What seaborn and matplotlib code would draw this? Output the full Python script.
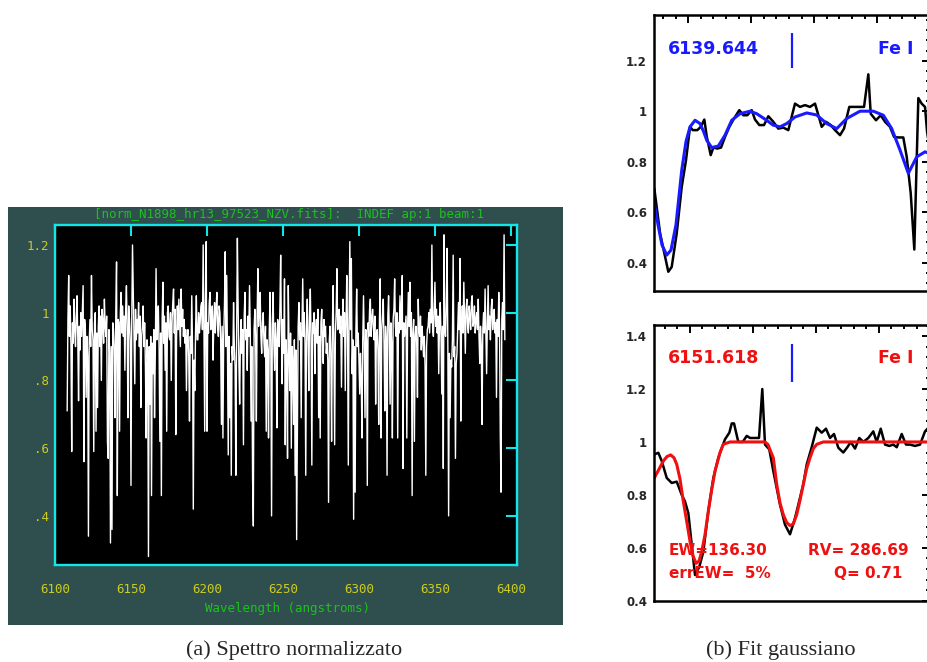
import numpy as np
import matplotlib
matplotlib.use("Agg")
import matplotlib.pyplot as plt
import matplotlib.transforms as mtransforms
from matplotlib.patches import Rectangle
from matplotlib.ticker import MultipleLocator, FixedLocator, FuncFormatter
import seaborn as sns

sns.set_style("white")
plt.rcParams["font.family"] = ["DejaVu Sans"]

# ---------------- (a) normalised spectrum, sampled every 0.5 A from 6108 A ----------------
spec_start, spec_step = 6108.0, 0.5
spec_flux = [
    0.71, 0.98, 1.11, 0.93, 1.02, 0.90, 0.59, 0.97, 0.91, 1.04,
    0.95, 0.90, 0.99, 1.05, 0.92, 0.74, 0.96, 0.89, 1.00, 0.93,
    1.01, 1.08, 0.56, 0.98, 0.95, 0.75, 0.93, 0.87, 0.34, 0.91,
    0.98, 0.90, 1.11, 0.95, 0.92, 0.59, 0.97, 1.00, 0.65, 0.94,
    0.72, 0.96, 1.02, 0.90, 0.99, 0.80, 1.01, 0.97, 0.91, 1.04,
    0.96, 0.93, 0.99, 0.62, 0.57, 0.95, 0.88, 0.32, 0.90, 0.36,
    0.97, 0.95, 0.89, 0.69, 1.00, 1.15, 0.46, 0.98, 0.97, 0.65,
    1.00, 1.06, 0.94, 1.02, 0.93, 0.99, 0.83, 1.01, 1.08, 0.95,
    0.69, 1.02, 0.98, 0.92, 0.49, 0.97, 1.20, 1.06, 0.93, 0.79,
    1.01, 0.92, 0.98, 0.94, 1.03, 0.90, 0.99, 0.72, 0.93, 0.96,
    1.02, 0.90, 0.97, 0.84, 0.63, 0.92, 0.86, 0.28, 0.90, 0.73,
    0.93, 0.46, 0.91, 0.82, 0.95, 0.69, 0.88, 1.13, 0.92, 0.98,
    1.02, 0.89, 0.62, 0.94, 0.46, 0.98, 1.09, 0.91, 0.99, 0.83,
    0.97, 0.65, 1.00, 1.02, 0.93, 0.92, 1.00, 0.80, 0.97, 1.03,
    1.07, 0.94, 1.01, 0.64, 0.93, 1.02, 0.95, 1.04, 0.97, 0.90,
    1.07, 0.96, 1.01, 0.93, 0.98, 0.91, 0.95, 0.77, 0.93, 0.95,
    0.87, 0.68, 0.93, 0.88, 1.05, 0.90, 0.42, 0.86, 0.77, 0.95,
    1.05, 0.92, 0.92, 1.00, 0.94, 0.97, 1.02, 1.03, 0.95, 1.20,
    0.96, 0.65, 1.02, 1.21, 0.65, 0.97, 0.94, 1.03, 1.06, 0.95,
    0.98, 1.02, 0.86, 0.97, 1.03, 0.94, 1.01, 1.06, 0.96, 0.93,
    1.02, 1.00, 0.92, 0.67, 0.96, 0.63, 0.93, 1.02, 1.18, 0.90,
    1.11, 0.88, 0.58, 0.93, 0.69, 0.85, 0.52, 0.90, 0.86, 1.03,
    0.90, 0.84, 0.52, 0.93, 1.22, 1.02, 0.85, 0.73, 0.91, 0.98,
    0.88, 0.95, 0.61, 0.99, 1.06, 0.92, 0.95, 0.83, 0.99, 0.93,
    1.08, 0.94, 0.68, 0.90, 0.51, 0.37, 0.95, 1.01, 0.93, 0.68,
    0.99, 1.13, 0.96, 1.02, 1.06, 0.93, 0.88, 0.97, 1.00, 0.91,
    0.87, 0.96, 0.65, 0.92, 0.89, 0.63, 0.95, 1.06, 0.90, 0.40,
    0.96, 1.06, 0.91, 0.83, 0.97, 0.92, 0.66, 0.98, 0.96, 0.90,
    1.02, 1.17, 0.93, 0.79, 0.98, 0.88, 1.10, 0.61, 0.92, 0.86,
    0.57, 1.08, 0.90, 0.77, 0.94, 0.60, 0.90, 0.84, 0.67, 0.92,
    0.52, 0.89, 0.33, 0.65, 0.96, 1.03, 0.92, 0.97, 0.69, 0.95,
    1.10, 0.93, 1.00, 0.91, 0.52, 0.96, 1.04, 0.92, 0.77, 0.99,
    1.07, 0.92, 0.55, 0.97, 0.94, 1.00, 0.82, 0.95, 0.98, 0.91,
    1.01, 0.69, 0.93, 0.63, 0.97, 1.01, 0.92, 0.85, 0.98, 0.93,
    0.96, 0.88, 0.91, 0.86, 0.44, 0.92, 0.96, 0.87, 0.62, 0.95,
    1.08, 0.90, 0.61, 0.94, 1.00, 1.13, 0.95, 0.96, 1.01, 0.94,
    0.99, 0.78, 0.96, 1.04, 0.93, 1.00, 0.77, 0.97, 1.11, 0.94,
    0.55, 0.98, 1.21, 0.95, 1.16, 0.82, 0.92, 0.39, 0.90, 0.47,
    0.95, 1.07, 0.90, 0.94, 0.86, 0.76, 0.88, 0.80, 0.63, 0.92,
    1.05, 0.91, 0.69, 0.95, 0.92, 0.49, 0.97, 0.93, 1.01, 1.04,
    0.93, 0.98, 1.01, 0.96, 0.92, 0.99, 0.73, 0.94, 0.95, 0.89,
    0.67, 0.98, 1.10, 0.63, 0.95, 0.99, 1.04, 0.91, 0.71, 0.96,
    0.92, 0.52, 0.99, 1.05, 0.94, 0.73, 0.97, 0.91, 0.63, 0.98,
    1.01, 1.10, 0.96, 0.93, 1.00, 0.63, 0.97, 0.94, 1.05, 0.95,
    1.02, 1.11, 0.54, 0.97, 0.93, 0.96, 0.99, 0.63, 0.95, 1.06,
    0.96, 1.09, 0.93, 1.00, 0.46, 0.94, 0.98, 0.62, 0.93, 0.96,
    0.91, 0.75, 1.04, 0.95, 0.93, 0.99, 0.89, 0.96, 0.92, 0.87,
    0.93, 0.84, 0.52, 0.90, 0.95, 0.96, 1.00, 0.94, 1.01, 0.97,
    1.20, 0.95, 0.93, 1.01, 1.09, 0.96, 1.01, 0.94, 0.99, 0.82,
    0.97, 1.03, 0.93, 0.76, 0.96, 0.54, 1.23, 0.95, 0.93, 1.02,
    1.19, 0.90, 0.40, 0.88, 0.69, 0.86, 0.84, 0.92, 1.17, 0.87,
    0.90, 0.57, 0.85, 0.88, 0.96, 1.03, 0.95, 1.16, 0.68, 0.97,
    1.02, 0.94, 1.09, 0.98, 0.88, 1.01, 1.04, 0.96, 0.94, 1.02,
    0.99, 0.95, 1.03, 1.05, 0.96, 0.97, 1.02, 0.94, 0.98, 1.00,
    0.95, 1.04, 0.93, 0.85, 0.96, 0.90, 0.67, 0.95, 1.00, 0.94,
    1.07, 0.95, 0.82, 0.97, 1.08, 0.95, 0.99, 0.92, 1.01, 1.04,
    0.95, 0.99, 1.01, 0.94, 0.97, 0.75, 0.98, 0.93, 1.06, 0.96,
    0.64, 0.47, 0.98, 1.03, 0.95, 1.23, 0.92,
]
spec_wave = spec_start + spec_step * np.arange(len(spec_flux))
spec_xticks = [6100, 6150, 6200, 6250, 6300, 6350, 6400]
spec_yticks = [0.4, 0.6, 0.8, 1.0, 1.2]
spec_title = "[norm_N1898_hr13_97523_NZV.fits]:  INDEF ap:1 beam:1"
spec_xlabel = "Wavelength (angstroms)"

# ---------------- (b) Gaussian fits of two Fe I lines ----------------
line1_center = 6139.644
line1_obs_wave = [
    6137.463, 6137.554, 6137.685, 6137.739, 6137.819, 6137.898, 6137.966, 6138.030,
    6138.073, 6138.146, 6138.200, 6138.257, 6138.295, 6138.358, 6138.400, 6138.463,
    6138.522, 6138.585, 6138.654, 6138.728, 6138.812, 6138.876, 6138.939, 6139.009,
    6139.061, 6139.130, 6139.204, 6139.273, 6139.352, 6139.431, 6139.511, 6139.590,
    6139.696, 6139.776, 6139.855, 6139.934, 6140.014, 6140.120, 6140.188, 6140.263,
    6140.331, 6140.411, 6140.474, 6140.558, 6140.649, 6140.792, 6140.860, 6140.898,
    6140.982, 6141.057, 6141.125, 6141.204, 6141.268, 6141.336, 6141.415, 6141.469,
    6141.533, 6141.590, 6141.654, 6141.707, 6141.760, 6141.792, 6141.839,
]
line1_obs_flux = [
    0.694, 0.517, 0.364, 0.383, 0.517, 0.700, 0.806, 0.938,
    0.925, 0.925, 0.938, 0.967, 0.900, 0.826, 0.856, 0.852,
    0.856, 0.898, 0.938, 0.971, 1.004, 0.984, 0.984, 1.004,
    0.967, 0.945, 0.945, 0.980, 0.958, 0.931, 0.935, 0.925,
    1.030, 1.017, 1.024, 1.017, 1.030, 0.938, 0.958, 0.945,
    0.925, 0.905, 0.931, 1.017, 1.017, 1.017, 1.146, 0.990,
    0.964, 0.984, 0.958, 0.938, 0.898, 0.896, 0.896, 0.820,
    0.675, 0.452, 1.052, 1.030, 1.017, 0.920, 0.840,
]
line1_fit_wave = [
    6137.463, 6137.522, 6137.585, 6137.660, 6137.728, 6137.807, 6137.898, 6137.966,
    6138.030, 6138.109, 6138.188, 6138.244, 6138.295, 6138.374, 6138.479, 6138.585,
    6138.692, 6138.823, 6138.982, 6139.088, 6139.247, 6139.347, 6139.458, 6139.565,
    6139.696, 6139.882, 6140.041, 6140.200, 6140.358, 6140.517, 6140.728, 6140.939,
    6141.098, 6141.231, 6141.363, 6141.495, 6141.628, 6141.760, 6141.839,
]
line1_fit_flux = [
    0.634, 0.550, 0.470, 0.430, 0.450, 0.550, 0.766, 0.880,
    0.938, 0.964, 0.951, 0.920, 0.885, 0.856, 0.862, 0.905,
    0.964, 0.990, 1.000, 0.990, 0.964, 0.945, 0.938, 0.951,
    0.977, 0.993, 0.985, 0.951, 0.931, 0.971, 1.000, 1.000,
    0.984, 0.931, 0.846, 0.754, 0.819, 0.839, 0.832,
]
line1_yticks = [0.4, 0.6, 0.8, 1.0, 1.2]

line2_center = 6151.618
line2_obs_wave = [
    6149.437, 6149.501, 6149.555, 6149.634, 6149.713, 6149.793, 6149.872, 6149.924,
    6149.977, 6150.031, 6150.083, 6150.151, 6150.215, 6150.294, 6150.374, 6150.453,
    6150.512, 6150.559, 6150.628, 6150.666, 6150.702, 6150.770, 6150.840, 6150.904,
    6150.956, 6151.099, 6151.151, 6151.194, 6151.262, 6151.326, 6151.432, 6151.512,
    6151.591, 6151.670, 6151.723, 6151.802, 6151.856, 6151.935, 6152.015, 6152.094,
    6152.162, 6152.226, 6152.289, 6152.358, 6152.437, 6152.501, 6152.555, 6152.623,
    6152.691, 6152.755, 6152.834, 6152.913, 6152.967, 6153.031, 6153.099, 6153.167,
    6153.231, 6153.285, 6153.364, 6153.432, 6153.496, 6153.575, 6153.655, 6153.734,
    6153.813,
]
line2_obs_flux = [
    0.953, 0.959, 0.928, 0.864, 0.845, 0.850, 0.800, 0.775,
    0.731, 0.611, 0.497, 0.528, 0.585, 0.738, 0.864, 0.940,
    0.980, 1.010, 1.035, 1.070, 1.070, 1.000, 1.000, 1.023,
    1.015, 1.015, 1.200, 0.990, 0.972, 0.890, 0.763, 0.687,
    0.651, 0.712, 0.763, 0.840, 0.915, 0.980, 1.054, 1.035,
    1.050, 1.015, 1.030, 0.978, 0.960, 0.980, 1.000, 0.975,
    1.015, 1.000, 1.015, 1.040, 1.000, 1.050, 0.990, 0.985,
    0.990, 0.980, 1.030, 0.990, 0.990, 0.985, 0.990, 1.040,
    1.060,
]
line2_fit_wave = [
    6149.437, 6149.496, 6149.580, 6149.639, 6149.697, 6149.750, 6149.793, 6149.845,
    6149.897, 6149.951, 6150.004, 6150.051, 6150.099, 6150.147, 6150.189, 6150.242,
    6150.294, 6150.348, 6150.401, 6150.480, 6150.532, 6150.639, 6151.194, 6151.242,
    6151.274, 6151.326, 6151.380, 6151.432, 6151.485, 6151.539, 6151.591, 6151.643,
    6151.697, 6151.750, 6151.802, 6151.856, 6151.908, 6151.961, 6152.015, 6152.120,
    6153.813,
]
line2_fit_flux = [
    0.864, 0.890, 0.928, 0.945, 0.951, 0.940, 0.915, 0.860,
    0.776, 0.700, 0.624, 0.570, 0.541, 0.550, 0.585, 0.650,
    0.738, 0.820, 0.890, 0.960, 0.991, 1.000, 1.000, 0.990,
    0.970, 0.940, 0.839, 0.770, 0.725, 0.695, 0.684, 0.690,
    0.725, 0.780, 0.839, 0.900, 0.940, 0.975, 0.991, 1.000,
    1.000,
]
line2_yticks = [0.4, 0.6, 0.8, 1.0, 1.2, 1.4]
line2_ew, line2_errew, line2_rv, line2_q = 136.30, 5, 286.69, 0.71

# ---------------- colours ----------------
SLATE = "#2f4f4f"
CYAN = "#12e6e6"
YELLOW = "#cccc22"
GREEN = "#1fc01f"
BLUE = "#1a1aff"
RED = "#f01010"
MONO = "DejaVu Sans Mono"

W, H = 928, 662
fig = plt.figure(figsize=(W / 100, H / 100), dpi=100)


def px_rect(x0, y0, x1, y1):
    return [x0 / W, 1 - y1 / H, (x1 - x0) / W, (y1 - y0) / H]


# slate panel behind the spectrum plot
fig.add_artist(Rectangle((8 / W, 1 - 625 / H), 555 / W, 418 / H,
                         transform=fig.transFigure, facecolor=SLATE,
                         edgecolor="none", zorder=0))

# ---------------- (a) ----------------
ax = fig.add_axes(px_rect(55, 225, 517, 565))
ax.set_facecolor("black")
sns.lineplot(x=spec_wave, y=spec_flux, ax=ax, color="white", lw=1.0,
             estimator=None, sort=False)
ax.set_xlim(6100, 6404)
ax.set_ylim(0.255, 1.259)
ax.set_xticks(spec_xticks)
ax.set_xticklabels([str(t) for t in spec_xticks])
ax.set_yticks(spec_yticks)
ax.set_yticklabels([f"{v:g}".lstrip("0") for v in spec_yticks])
for sp in ax.spines.values():
    sp.set_color(CYAN)
    sp.set_linewidth(1.7)
ax.tick_params(axis="both", direction="in", length=8, width=1.5, color=CYAN,
               top=True, right=True, labelcolor=YELLOW, labelsize=9)
ax.tick_params(axis="x", pad=13)
ax.tick_params(axis="y", pad=4)
for lab in ax.get_xticklabels() + ax.get_yticklabels():
    lab.set_fontfamily(MONO)
ax.set_xlabel(spec_xlabel, color=GREEN, fontsize=9, family=MONO)
ax.xaxis.set_label_coords(0.503, -0.128)
ax.xaxis.label.set_va("center")
ax.set_ylabel("")
ax.text(0.506, 1.032, spec_title, transform=ax.transAxes, color=GREEN,
        fontsize=9, family=MONO, ha="center", va="center")


# ---------------- (b) ----------------
def fit_panel(rect, center, obs_w, obs_f, fit_w, fit_f, fit_color, ylim, yticks,
              mark_span):
    a = fig.add_axes(rect)
    a.set_facecolor("white")
    sns.lineplot(x=obs_w, y=obs_f, ax=a, color="black", lw=1.8,
                 estimator=None, sort=False)
    sns.lineplot(x=fit_w, y=fit_f, ax=a, color=fit_color, lw=2.2,
                 estimator=None, sort=False)
    a.set_xlim(center - 2.186, center + 2.195)
    a.set_ylim(*ylim)
    a.xaxis.set_major_locator(MultipleLocator(1.0))
    a.xaxis.set_minor_locator(MultipleLocator(0.2))
    a.yaxis.set_major_locator(FixedLocator(yticks))
    a.yaxis.set_minor_locator(MultipleLocator(0.04))
    a.yaxis.set_major_formatter(FuncFormatter(lambda v, p: f"{v:g}"))
    for sp in a.spines.values():
        sp.set_color("black")
        sp.set_linewidth(1.8)
    a.tick_params(which="both", direction="in", top=True, right=True,
                  labelbottom=False, width=1.4, color="black")
    a.tick_params(which="major", length=6)
    a.tick_params(which="minor", length=3)
    a.tick_params(axis="y", labelsize=8.5, pad=5)
    for lab in a.get_yticklabels():
        lab.set_fontweight("bold")
    trans = mtransforms.blended_transform_factory(a.transData, a.transAxes)
    a.plot([center, center], mark_span, color=BLUE, lw=1.6, transform=trans,
           solid_capstyle="butt")
    return a


ax1 = fit_panel(px_rect(654, 15, 930, 290.7), line1_center,
                line1_obs_wave, line1_obs_flux, line1_fit_wave, line1_fit_flux,
                BLUE, (0.289, 1.381), line1_yticks, (0.809, 0.935))
big = dict(fontsize=12.5, fontweight="bold", va="center")
ax1.text(0.051, 0.877, f"{line1_center:.3f}", color=BLUE, ha="left",
         transform=ax1.transAxes, **big)
ax1.text(0.942, 0.877, "Fe I", color=BLUE, ha="right",
         transform=ax1.transAxes, **big)

ax2 = fit_panel(px_rect(654, 325, 930, 600.7), line2_center,
                line2_obs_wave, line2_obs_flux, line2_fit_wave, line2_fit_flux,
                RED, (0.4, 1.442), line2_yticks, (0.794, 0.931))
ax2.text(0.051, 0.880, f"{line2_center:.3f}", color=RED, ha="left",
         transform=ax2.transAxes, **big)
ax2.text(0.942, 0.880, "Fe I", color=RED, ha="right",
         transform=ax2.transAxes, **big)
small = dict(fontsize=11, fontweight="bold", va="center", color=RED,
             transform=ax2.transAxes)
ax2.text(0.054, 0.181, f"EW={line2_ew:.2f}", ha="left", **small)
ax2.text(0.924, 0.181, f"RV= {line2_rv:.2f}", ha="right", **small)
ax2.text(0.054, 0.097, f"errEW=  {line2_errew}%", ha="left", **small)
ax2.text(0.899, 0.097, f"Q= {line2_q:.2f}", ha="right", **small)

# ---------------- captions ----------------
cap = dict(fontsize=16, family="Liberation Serif", ha="center", va="center")
fig.text(294 / W, 1 - 650 / H, "(a) Spettro normalizzato", **cap)
fig.text(781 / W, 1 - 650 / H, "(b) Fit gaussiano", **cap)

fig.savefig("out.png", dpi=100, facecolor="white")
